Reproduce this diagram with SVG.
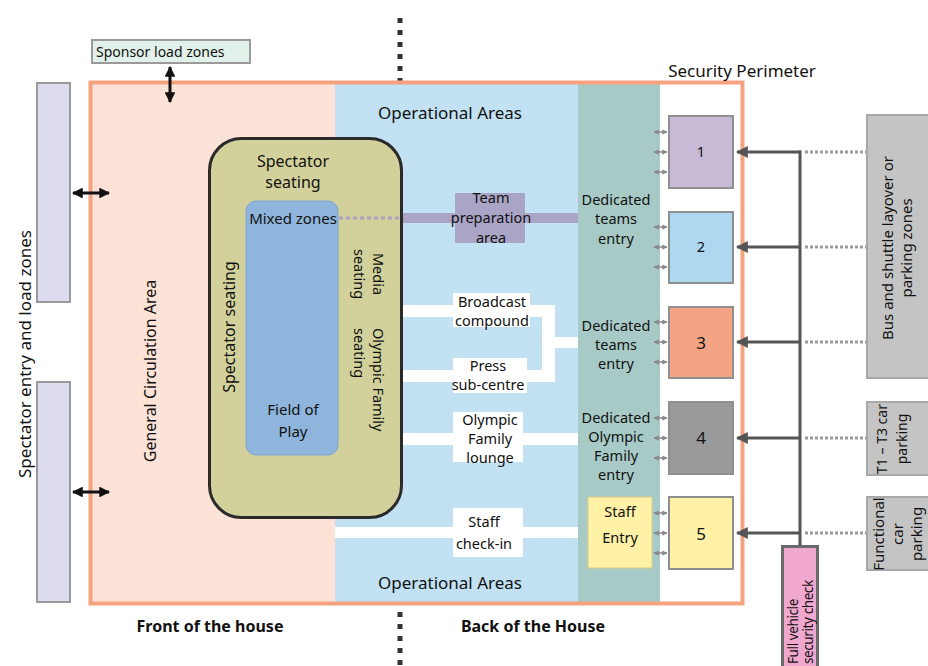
<svg xmlns="http://www.w3.org/2000/svg" width="928" height="666" viewBox="0 0 928 666">
<defs>
<style>
text{font-family:"Noto Sans","Open Sans",sans-serif;fill:#111;}
.t14{font-size:14.5px;}
.t15{font-size:15px;}
.t16{font-size:16px;}
.t17{font-size:17px;}
.b{font-weight:bold;font-size:16px;}
.m{text-anchor:middle;}
.box{stroke:#8f8f8f;stroke-width:2;}
.gray{fill:#c4c4c4;stroke:#a8a8a8;stroke-width:2;}
.feed{stroke:#555;stroke-width:3;fill:none;}
.dot{stroke:#9a9a9a;stroke-width:3;stroke-dasharray:3 2;fill:none;}
.blk{stroke:#111;stroke-width:3;fill:none;}
.sm{stroke:#888;stroke-width:1.5;fill:none;}
.wb{fill:#fff;}
</style>
<marker id="ah" viewBox="0 0 10 10" refX="9" refY="5" markerWidth="4" markerHeight="4" orient="auto-start-reverse"><path d="M0,0 L10,5 L0,10 Z" fill="#555"/></marker>
<marker id="bh" viewBox="0 0 10 10" refX="9" refY="5" markerWidth="3.6" markerHeight="3.6" orient="auto-start-reverse"><path d="M0,0 L10,5 L0,10 Z" fill="#111"/></marker>
<marker id="sh" viewBox="0 0 10 10" refX="9" refY="5" markerWidth="3.5" markerHeight="3.5" orient="auto-start-reverse"><path d="M0,0 L10,5 L0,10 Z" fill="#888"/></marker>
</defs>
<rect width="928" height="666" fill="#fff"/>

<g id="divider">
<line x1="400" y1="18" x2="400" y2="84" stroke="#333" stroke-width="5" stroke-dasharray="5 7"/>
<line x1="400" y1="612" x2="400" y2="666" stroke="#333" stroke-width="5" stroke-dasharray="5 7"/>
</g>

<g id="front-of-house">
<rect x="91" y="84" width="244" height="520" fill="#fde2d7"/>
<text class="t16 m" transform="translate(156,371) rotate(-90)">General Circulation Area</text>
</g>

<g id="operational-areas">
<rect x="335" y="84" width="243" height="520" fill="#c2e2f3"/>
<text class="t17 m" x="450" y="119">Operational Areas</text>
<text class="t17 m" x="450" y="589">Operational Areas</text>
</g>

<g id="entry-column">
<rect x="578" y="84" width="82" height="520" fill="#a7cac7"/>
<text class="t14 m" x="616" y="205">Dedicated</text>
<text class="t14 m" x="616" y="224">teams</text>
<text class="t14 m" x="616" y="244">entry</text>
<text class="t14 m" x="616" y="331">Dedicated</text>
<text class="t14 m" x="616" y="350">teams</text>
<text class="t14 m" x="616" y="369">entry</text>
<text class="t14 m" x="616" y="423">Dedicated</text>
<text class="t14 m" x="616" y="442">Olympic</text>
<text class="t14 m" x="616" y="461">Family</text>
<text class="t14 m" x="616" y="480">entry</text>
</g>

<g id="broadcast-press">
<path class="wb" d="M400,305 H555 V337 H578 V348 H555 V382 H400 V370 H542 V317 H400 Z"/>
<rect class="wb" x="453" y="293" width="77" height="34"/>
<rect class="wb" x="453" y="358" width="74" height="35"/>
<text class="t14 m" x="492" y="307">Broadcast</text>
<text class="t14 m" x="492" y="326">compound</text>
<text class="t14 m" x="488" y="371">Press</text>
<text class="t14 m" x="488" y="390">sub-centre</text>
</g>

<g id="olympic-family-lounge">
<rect class="wb" x="402" y="433" width="176" height="12"/>
<rect class="wb" x="453" y="412" width="70" height="50"/>
<text class="t14 m" x="490" y="425">Olympic</text>
<text class="t14 m" x="490" y="444">Family</text>
<text class="t14 m" x="490" y="463">lounge</text>
</g>

<g id="staff-check-in">
<rect class="wb" x="335" y="527" width="243" height="11"/>
<rect class="wb" x="453" y="508" width="70" height="49"/>
<text class="t14 m" x="484" y="527">Staff</text>
<text class="t14 m" x="484" y="549">check-in</text>
</g>

<g id="staff-entry">
<rect x="588" y="497" width="64" height="71" fill="#fff1a6" stroke="#d9cc8a" stroke-width="1"/>
<text class="t14 m" x="620" y="517">Staff</text>
<text class="t14 m" x="620" y="543">Entry</text>
</g>

<g id="team-preparation">
<rect x="400" y="213" width="178" height="10" fill="#aaa4c6"/>
<rect x="455" y="193" width="70" height="50" fill="#aaa4c6"/>
<text class="t14 m" x="491" y="203">Team</text>
<text class="t14 m" x="491" y="223">preparation</text>
<text class="t14 m" x="491" y="243">area</text>
</g>

<g id="spectator-seating">
<rect x="209.5" y="138.5" width="192" height="379" rx="32" fill="#d3d19b" stroke="#2a2a2a" stroke-width="3"/>
<text class="t16 m" x="293" y="167">Spectator</text>
<text class="t16 m" x="293" y="188">seating</text>
<text class="t16 m" transform="translate(235,327) rotate(-90)">Spectator seating</text>
<text class="t14" text-anchor="middle" transform="translate(373,274) rotate(90)">Media</text>
<text class="t14" text-anchor="middle" transform="translate(354,274) rotate(90)">seating</text>
<text class="t14" transform="translate(373,328) rotate(90)">Olympic Family</text>
<text class="t14" transform="translate(354,328) rotate(90)">seating</text>
</g>

<g id="field-of-play">
<rect x="246" y="201" width="92" height="254" rx="10" fill="#8fb5dc" stroke="#7da4cf" stroke-width="1"/>
<text class="t15 m" x="293" y="224">Mixed zones</text>
<text class="t15 m" x="293" y="415">Field of</text>
<text class="t15 m" x="293" y="437">Play</text>
</g>

<g id="security-perimeter">
<rect x="90.5" y="82.5" width="652" height="521" fill="none" stroke="#f5a27f" stroke-width="4"/>
<text class="t17 m" x="742" y="77">Security Perimeter</text>
</g>

<g id="entry-1">
<rect class="box" x="669" y="116" width="64" height="72" fill="#c8b9d6"/>
<text class="t14 m" x="701" y="157">1</text>
</g>
<g id="entry-2">
<rect class="box" x="669" y="212" width="64" height="71" fill="#aed8f0"/>
<text class="t14 m" x="701" y="252">2</text>
</g>
<g id="entry-3">
<rect class="box" x="669" y="307" width="64" height="71" fill="#f4a485"/>
<text class="t17 m" x="701" y="349">3</text>
</g>
<g id="entry-4">
<rect class="box" x="669" y="402" width="64" height="72" fill="#9a9a9a"/>
<text class="t17 m" x="701" y="444">4</text>
</g>
<g id="entry-5">
<rect class="box" x="669" y="497" width="64" height="72" fill="#fff1a6"/>
<text class="t17 m" x="701" y="540">5</text>
</g>

<g id="bus-shuttle">
<rect class="gray" x="867" y="115" width="70" height="263"/>
<text class="t15 m" transform="translate(893,248) rotate(-90)">Bus and shuttle layover or</text>
<text class="t15 m" transform="translate(912,248) rotate(-90)">parking zones</text>
</g>
<g id="t1-t3-parking">
<rect class="gray" x="867" y="402" width="70" height="73"/>
<text class="m" style="font-size:14px" transform="translate(887,439) rotate(-90)">T1 – T3 car</text>
<text class="m" style="font-size:14px" transform="translate(907,439) rotate(-90)">parking</text>
</g>
<g id="functional-parking">
<rect class="gray" x="867" y="497" width="70" height="73"/>
<text class="t15 m" transform="translate(884,534) rotate(-90)">Functional</text>
<text class="t15 m" transform="translate(903,534) rotate(-90)">car</text>
<text class="t15 m" transform="translate(922,534) rotate(-90)">parking</text>
</g>

<g id="vehicle-security-check">
<rect x="782.5" y="546.5" width="35" height="125" fill="#f0a8cf" stroke="#6a6a6a" stroke-width="3"/>
<text style="font-size:13.5px;letter-spacing:-0.4px" transform="translate(798,664) rotate(-90)">Full vehicle</text>
<text style="font-size:13.5px;letter-spacing:-0.4px" transform="translate(813,664) rotate(-90)">security check</text>
</g>

<g id="spectator-entry">
<rect x="37" y="83" width="33" height="219" fill="#dcdcee" stroke="#9a9a9a" stroke-width="2"/>
<rect x="37" y="382" width="33" height="220" fill="#dcdcee" stroke="#9a9a9a" stroke-width="2"/>
<text class="t17 m" transform="translate(31,354) rotate(-90)">Spectator entry and load zones</text>
</g>

<g id="sponsor-load-zones">
<rect x="92" y="40" width="158" height="23" fill="#e2f2ea" stroke="#9a9a9a" stroke-width="2"/>
<text x="96" y="57" style="font-size:14px">Sponsor load zones</text>
</g>

<g id="labels">
<text class="b m" x="210" y="632">Front of the house</text>
<text class="b m" x="533" y="632">Back of the House</text>
</g>

<g id="connectors">
<line x1="339" y1="218" x2="400" y2="218" stroke="#aaa4c6" stroke-width="3" stroke-dasharray="4 3"/>
<line class="blk" x1="170" y1="67" x2="170" y2="102" marker-start="url(#bh)" marker-end="url(#bh)"/>
<line class="blk" x1="73" y1="193" x2="109" y2="193" marker-start="url(#bh)" marker-end="url(#bh)"/>
<line class="blk" x1="73" y1="492" x2="109" y2="492" marker-start="url(#bh)" marker-end="url(#bh)"/>
<line class="feed" x1="800" y1="150.5" x2="800" y2="546"/>
<line class="feed" x1="801" y1="152" x2="737" y2="152" marker-end="url(#ah)"/>
<line class="feed" x1="801" y1="247" x2="737" y2="247" marker-end="url(#ah)"/>
<line class="feed" x1="801" y1="342" x2="737" y2="342" marker-end="url(#ah)"/>
<line class="feed" x1="801" y1="438" x2="737" y2="438" marker-end="url(#ah)"/>
<line class="feed" x1="801" y1="533" x2="737" y2="533" marker-end="url(#ah)"/>
<line class="dot" x1="805" y1="152" x2="866" y2="152"/>
<line class="dot" x1="805" y1="247" x2="866" y2="247"/>
<line class="dot" x1="805" y1="342" x2="866" y2="342"/>
<line class="dot" x1="805" y1="438" x2="866" y2="438"/>
<line class="dot" x1="805" y1="533" x2="866" y2="533"/>
<g class="sm">
<line x1="654" y1="132" x2="667" y2="132" marker-start="url(#sh)" marker-end="url(#sh)"/>
<line x1="654" y1="152" x2="667" y2="152" marker-start="url(#sh)" marker-end="url(#sh)"/>
<line x1="654" y1="172" x2="667" y2="172" marker-start="url(#sh)" marker-end="url(#sh)"/>
<line x1="654" y1="227" x2="667" y2="227" marker-start="url(#sh)" marker-end="url(#sh)"/>
<line x1="654" y1="247" x2="667" y2="247" marker-start="url(#sh)" marker-end="url(#sh)"/>
<line x1="654" y1="267" x2="667" y2="267" marker-start="url(#sh)" marker-end="url(#sh)"/>
<line x1="654" y1="322" x2="667" y2="322" marker-start="url(#sh)" marker-end="url(#sh)"/>
<line x1="654" y1="342" x2="667" y2="342" marker-start="url(#sh)" marker-end="url(#sh)"/>
<line x1="654" y1="362" x2="667" y2="362" marker-start="url(#sh)" marker-end="url(#sh)"/>
<line x1="654" y1="418" x2="667" y2="418" marker-start="url(#sh)" marker-end="url(#sh)"/>
<line x1="654" y1="438" x2="667" y2="438" marker-start="url(#sh)" marker-end="url(#sh)"/>
<line x1="654" y1="458" x2="667" y2="458" marker-start="url(#sh)" marker-end="url(#sh)"/>
<line x1="654" y1="513" x2="667" y2="513" marker-start="url(#sh)" marker-end="url(#sh)"/>
<line x1="654" y1="533" x2="667" y2="533" marker-start="url(#sh)" marker-end="url(#sh)"/>
<line x1="654" y1="553" x2="667" y2="553" marker-start="url(#sh)" marker-end="url(#sh)"/>
</g>
</g>
</svg>
